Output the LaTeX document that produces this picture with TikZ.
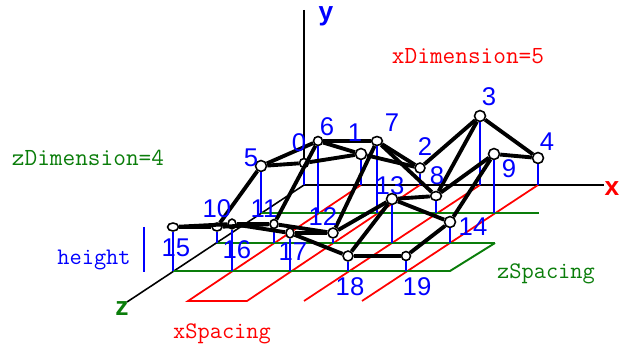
\documentclass[tikz,border=0pt]{standalone}
\usepackage{fontspec}
\setmainfont{Liberation Sans}
\usetikzlibrary{shapes.geometric}
\definecolor{gridgreen}{RGB}{10,125,10}
\definecolor{heightblue}{RGB}{0,0,255}
\tikzset{
    axisline/.style = {draw = black, line width = 0.9pt},
    redline/.style = {draw = red, line width = 1pt},
    greenline/.style = {draw = gridgreen, line width = 1.1pt},
    heightline/.style = {draw = heightblue, line width = 1.1pt},
    meshline/.style = {draw = black, line width = 2.2pt},
    vertex/.style = {ellipse, draw = black, fill = white, line width = 0.9pt, inner sep = 0pt},
    numlabel/.style = {text = heightblue, font = \fontsize{14.6}{14.6}\selectfont, inner sep = 0pt},
    codelabel/.style = {font = \ttfamily\fontsize{14}{14}\selectfont, inner sep = 0pt},
    shortlabel/.style = {font = \ttfamily\fontsize{13.5}{13.5}\selectfont, inner sep = 0pt},
    axislabel/.style = {font = \bfseries\fontsize{15}{15}\selectfont, inner sep = 0pt}
}
\begin{document}
\begin{tikzpicture}[x=0.02cm,y=-0.02cm]
    \useasboundingbox (0,0) rectangle (619,344);
    \foreach \name/\x/\y in {
        0/304/185, 1/361/185, 2/420/185, 3/480/185, 4/538/185,
        5/261/213, 6/318/213, 7/377/213, 8/436/213, 9/494/213,
        10/217/243, 11/274/243, 12/333/243, 13/392/243, 14/450/243,
        15/173/271, 16/232/271, 17/290/271, 18/348/271, 19/406/271}
        \coordinate (b\name) at (\x,\y);
    \coordinate (xend) at (604,185);
    \coordinate (yend) at (304,10);
    \coordinate (zend) at (127,302);
    \coordinate (r1) at (188,301);
    \coordinate (r2) at (247,301);
    \coordinate (r3) at (304,301);
    \coordinate (r4) at (362,301);
    \coordinate (g1) at (539,213);
    \coordinate (g2) at (495,243);
    \coordinate (g3) at (450,271);
    \coordinate (h1) at (144,227);
    \coordinate (h2) at (144,272);

    \draw[axisline] (yend) -- (b0) -- (xend);
    \draw[axisline] (b0) -- (zend);
    \draw[redline] (b1) -- (r1) -- (r2) -- (b2);
    \draw[redline] (b3) -- (r3);
    \draw[redline] (b4) -- (r4);
    \draw[greenline] (b5) -- (g1);
    \draw[greenline] (b10) -- (g2);
    \draw[greenline] (b15) -- (g3) -- (g2);

    \foreach \name/\x/\y/\w/\h in {
        0/304/163/9/9, 1/361/154/11/11, 2/420/168/10/10, 3/480/116/11/11, 4/538/158/11/11,
        5/261/166/11/11, 6/318/141/9/9, 7/377/141/11/9, 8/436/196/11/9, 9/494/154/11/11,
        10/217/227/10/8, 11/274/224/8/9, 12/333/233/10/10, 13/392/199/11/11, 14/450/222/11/11,
        15/173/227/11/8, 16/232/224/8/10, 17/290/233/8/10, 18/348/256/10/10, 19/406/256/9/9}
        \node[vertex, minimum width = \w*0.5669pt, minimum height = \h*0.5669pt] (n\name) at (\x,\y) {};

    \foreach \name in {0,...,19}
        \draw[heightline] (n\name) -- (b\name);
    \draw[heightline] (h1) -- (h2);

    \foreach \a/\b in {
        0/1, 1/2, 2/3, 3/4, 5/6, 6/7, 7/8, 8/9,
        10/11, 11/12, 12/13, 13/14, 15/16, 16/17, 17/18, 18/19,
        0/5, 5/10, 10/15, 1/6, 6/11, 11/16, 2/7, 7/12, 12/17,
        3/8, 8/13, 13/18, 4/9, 9/14, 14/19}
        \draw[meshline] (n\a) -- (n\b);

    \foreach \name/\x/\y in {
        0/299/143, 1/355/133, 2/425/147, 3/489/97, 4/547/142,
        5/251/158, 6/327/127, 7/392/123, 8/437/176, 9/509/169,
        10/217/209, 11/264/209, 12/323/217, 13/390/186, 14/473/227,
        15/176/248, 16/237/250, 17/293/252, 18/350/287, 19/417/287}
        \node[numlabel] (t\name) at (\x,\y) {\name};

    \node[axislabel, text = heightblue] (ylabel) at (326,16) {y};
    \node[axislabel, text = red] (xlabel) at (612,189) {x};
    \node[axislabel, text = gridgreen] (zlabel) at (122,309) {z};
    \node[codelabel, text = red] (xdim) at (468,56) {xDimension=5};
    \node[codelabel, text = gridgreen] (zdim) at (88,158) {zDimension=4};
    \node[shortlabel, text = heightblue] (heightlabel) at (94,260) {height};
    \node[shortlabel, text = gridgreen] (zspace) at (546,274) {zSpacing};
    \node[shortlabel, text = red] (xspace) at (222,334) {xSpacing};
\end{tikzpicture}
\end{document}
